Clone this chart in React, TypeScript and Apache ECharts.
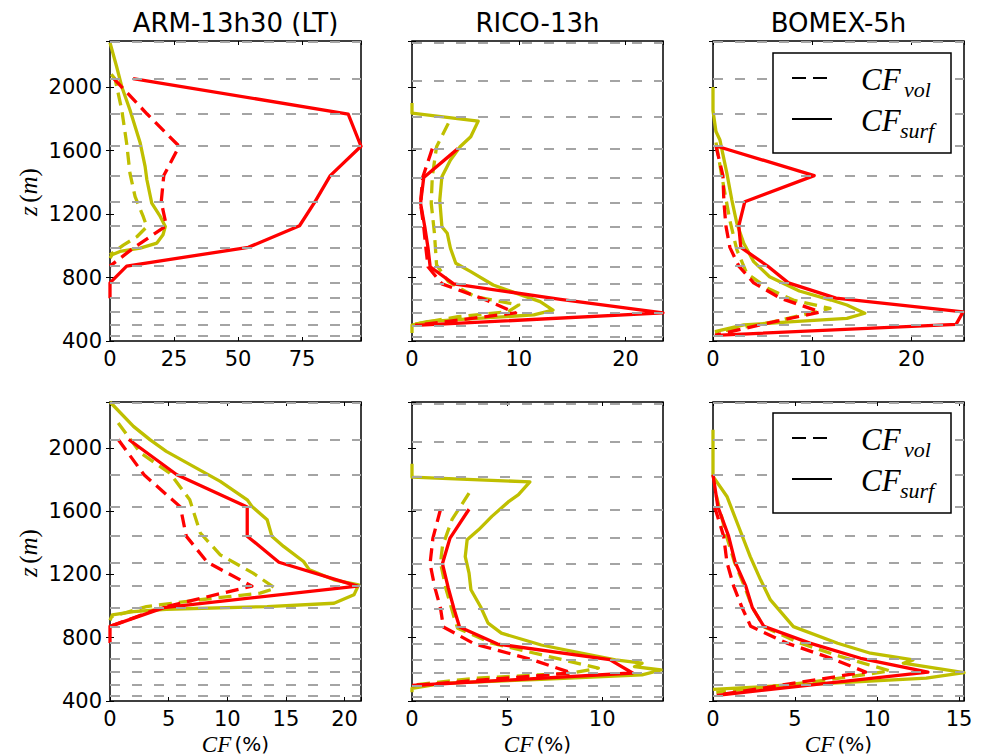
import React, { useEffect, useRef } from "react";
import * as echarts from "echarts";

// Model levels (m) drawn as grey dashed reference lines
const LEVELS_ARM_BOMEX = [436, 505, 583, 670, 766, 872, 990, 1126, 1277, 1442, 1627, 1830, 2053, 2287];
const LEVELS_RICO = [425, 498, 577, 662, 760, 868, 986, 1118, 1268, 1430, 1612, 1815, 2038, 2280];

const TITLES = ["ARM-13h30 (LT)", "RICO-13h", "BOMEX-5h"];
const Y_TICKS_LABELS = [400, 800, 1200, 1600, 2000];
const Y_MIN = 400;
const Y_MAX = 2290;
const Y_INTERVAL = 400;

// x-axis extents per panel [row][col]
const X_MAX = [[98, 23.5, 25.3], [21.4, 13.2, 15.3]];
const X_INTERVAL = [[25, 10, 10], [5, 5, 5]];

// ---- Top row ([CF %, z m]) ----
const ARM_TOP_RED_SURF = [[9, 2053], [93, 1830], [98, 1627], [86, 1442], [80, 1277], [74, 1126], [54, 990], [6.5, 872], [0, 766], [0, 670]];
const ARM_TOP_RED_VOL = [[1.5, 2053], [14.5, 1830], [27, 1627], [21, 1442], [20, 1277], [22, 1126], [9.5, 990], [0, 872]];
const ARM_TOP_YEL_SURF = [[0, 2280], [2.6, 2128], [4.6, 2002], [7.8, 1855], [11.8, 1647], [13.7, 1500], [14.4, 1416], [16.3, 1269], [19.6, 1185], [21.6, 1122], [20.7, 1069], [18.3, 1017], [11.8, 985], [3.9, 964], [0.8, 943], [0, 922]];
const ARM_TOP_YEL_VOL = [[0.5, 2080], [2, 2050], [4.6, 1855], [6.5, 1645], [7.8, 1456], [9.8, 1309], [13, 1183], [14.4, 1120], [10.5, 1057], [5.2, 1004], [0, 943]];

const RICO_TOP_RED_SURF = [[4.3, 1612], [1.1, 1430], [0.8, 1268], [1.2, 1118], [1.5, 986], [1.7, 868], [3.9, 760], [13.9, 662], [23.5, 577], [0.3, 498]];
const RICO_TOP_RED_VOL = [[1.9, 1612], [1.0, 1430], [0.8, 1268], [1.1, 1118], [1.3, 986], [1.5, 868], [2.8, 760], [6.8, 662], [9.7, 577], [0.3, 498]];
const RICO_TOP_YEL_SURF = [[0, 1900], [0, 1835], [6.2, 1785], [5.5, 1687], [4.5, 1624], [3.6, 1540], [2.8, 1435], [2.6, 1288], [2.8, 1120], [3.3, 1079], [3.6, 984], [4.1, 890], [5.5, 837], [7.6, 753], [9.8, 700], [12, 648], [13.2, 595], [11.4, 564], [6.1, 543], [1.4, 522], [0, 500], [0, 450]];
const RICO_TOP_YEL_VOL = [[3.4, 1771], [2.3, 1624], [1.9, 1435], [1.8, 1268], [2.1, 1079], [2.3, 879], [3.4, 774], [5.9, 679], [10, 627], [9, 585], [4.3, 553], [0.3, 507]];

const BOMEX_TOP_RED_SURF = [[0.4, 1627], [10.2, 1442], [3.2, 1277], [2.6, 1126], [2.8, 990], [5.5, 872], [7.6, 766], [12.4, 670], [25.2, 583], [24.5, 505], [0.2, 436]];
const BOMEX_TOP_RED_VOL = [[0.3, 1627], [1.0, 1442], [1.1, 1277], [1.3, 1126], [1.7, 990], [2.6, 872], [4.1, 766], [6.8, 670], [10.8, 583], [5.0, 505], [0.2, 436]];
const BOMEX_TOP_YEL_SURF = [[0, 2000], [0, 1850], [0.3, 1720], [0.7, 1666], [1.4, 1456], [1.9, 1288], [2.4, 1142], [3.1, 1015], [4.1, 900], [5.7, 805], [8.7, 715], [11.9, 658], [13.5, 627], [15.3, 575], [13.5, 543], [8.1, 522], [3.1, 501], [0.2, 459]];
const BOMEX_TOP_YEL_VOL = [[0.3, 1650], [1.0, 1400], [1.7, 1160], [2.4, 975], [3.4, 826], [5.5, 732], [8.1, 658], [11.8, 605], [6, 520], [0.2, 455]];

// ---- Bottom row ----
const ARM_BOT_RED_SURF = [[1.6, 2053], [5.7, 1830], [11.7, 1627], [11.7, 1442], [14.4, 1277], [21.1, 1126], [4.6, 990], [0, 872], [0, 766]];
const ARM_BOT_RED_VOL = [[0.7, 2053], [2.9, 1830], [6.0, 1627], [6.5, 1442], [8.3, 1277], [12.1, 1126], [4.4, 990], [0, 872]];
const ARM_BOT_YEL_SURF = [[0, 2290], [2.0, 2136], [3.4, 2052], [4.8, 1978], [7.1, 1883], [9.4, 1788], [11.7, 1672], [12.1, 1630], [13.4, 1546], [13.8, 1442], [14.8, 1377], [16.5, 1282], [17.0, 1229], [19.1, 1166], [21.2, 1134], [20.8, 1071], [19.1, 1018], [13.4, 997], [4.8, 980], [2.0, 965], [0.2, 944], [0, 910]];
const ARM_BOT_YEL_VOL = [[0.7, 2157], [2.6, 1968], [5.1, 1841], [6.8, 1672], [7.7, 1462], [9.4, 1324], [12.2, 1208], [14.1, 1113], [12.8, 1082], [7.7, 1040], [3.1, 997], [0.2, 934]];

const RICO_BOT_RED_SURF = [[3.0, 1612], [2.0, 1430], [1.6, 1268], [1.9, 1118], [2.2, 986], [2.5, 868], [4.5, 760], [10.4, 662], [11.6, 577], [0, 498]];
const RICO_BOT_RED_VOL = [[1.5, 1612], [1.1, 1430], [0.95, 1268], [1.2, 1118], [1.5, 986], [1.65, 868], [3.3, 760], [6.3, 662], [8.4, 577], [0, 498]];
const RICO_BOT_YEL_SURF = [[0, 1900], [0, 1815], [6.2, 1785], [5.6, 1704], [5.1, 1662], [4.2, 1567], [3.5, 1482], [2.9, 1419], [2.8, 1313], [3.0, 1208], [3.1, 1103], [3.6, 997], [4.0, 892], [4.7, 829], [6.8, 754], [8.9, 702], [10.7, 660], [12.1, 639], [11.7, 617], [13.1, 596], [12.1, 565], [6.8, 537], [1.6, 512], [0, 480], [0, 455]];
const RICO_BOT_YEL_VOL = [[3.0, 1714], [2.1, 1546], [1.6, 1377], [1.5, 1272], [1.8, 1103], [2.2, 934], [2.4, 860], [4.2, 765], [7.2, 681], [9.8, 608], [8.4, 576], [3.3, 544], [0.2, 502]];

const BOMEX_BOT_RED_SURF = [[0, 1830], [0.3, 1627], [0.95, 1442], [1.35, 1277], [2.0, 1126], [2.4, 990], [3.1, 872], [5.9, 766], [9.0, 670], [13.1, 583], [0.24, 436]];
const BOMEX_BOT_RED_VOL = [[0.1, 1627], [0.65, 1442], [0.85, 1277], [1.26, 1126], [1.77, 990], [2.3, 872], [4.5, 766], [7.2, 670], [9.3, 583], [0.2, 436]];
const BOMEX_BOT_YEL_SURF = [[0, 2115], [0, 1820], [0.85, 1693], [1.56, 1503], [2.27, 1313], [2.9, 1166], [3.5, 1039], [4.9, 870], [7.6, 765], [9.6, 702], [12.2, 660], [11.6, 639], [15.3, 579], [13.0, 544], [7.0, 512], [0, 474]];
const BOMEX_BOT_YEL_VOL = [[0.2, 1700], [0.8, 1450], [1.3, 1280], [1.9, 1130], [2.4, 990], [3.1, 870], [5.2, 770], [7.8, 680], [10.8, 590], [6, 520], [0.2, 455]];

const PANEL_DATA = [
  [
    { levels: LEVELS_ARM_BOMEX, ys: ARM_TOP_YEL_SURF, yv: ARM_TOP_YEL_VOL, rs: ARM_TOP_RED_SURF, rv: ARM_TOP_RED_VOL },
    { levels: LEVELS_RICO, ys: RICO_TOP_YEL_SURF, yv: RICO_TOP_YEL_VOL, rs: RICO_TOP_RED_SURF, rv: RICO_TOP_RED_VOL },
    { levels: LEVELS_ARM_BOMEX, ys: BOMEX_TOP_YEL_SURF, yv: BOMEX_TOP_YEL_VOL, rs: BOMEX_TOP_RED_SURF, rv: BOMEX_TOP_RED_VOL },
  ],
  [
    { levels: LEVELS_ARM_BOMEX, ys: ARM_BOT_YEL_SURF, yv: ARM_BOT_YEL_VOL, rs: ARM_BOT_RED_SURF, rv: ARM_BOT_RED_VOL },
    { levels: LEVELS_RICO, ys: RICO_BOT_YEL_SURF, yv: RICO_BOT_YEL_VOL, rs: RICO_BOT_RED_SURF, rv: RICO_BOT_RED_VOL },
    { levels: LEVELS_ARM_BOMEX, ys: BOMEX_BOT_YEL_SURF, yv: BOMEX_BOT_YEL_VOL, rs: BOMEX_BOT_RED_SURF, rv: BOMEX_BOT_RED_VOL },
  ],
];

// ---- layout / style ----
const COL_LEFT = [110, 412, 713];
const ROW_TOP = [41, 402];
const PANEL_W = 251;
const PANEL_H = [300, 299];
const RED = "#ff0000";
const YEL = "#bfbf00";
const DASH = [13, 7];
const SANS = "DejaVu Sans";
const SERIF = "Liberation Serif";

function multipleFormatter(interval: number) {
  return (v: number) => {
    const k = v / interval;
    return Math.abs(k - Math.round(k)) < 1e-6 ? String(Math.round(v * 100) / 100) : "";
  };
}

function buildOption() {
  const grid: any[] = [];
  const xAxis: any[] = [];
  const yAxis: any[] = [];
  const series: any[] = [];
  const graphic: any[] = [];

  const tickStyle = { show: true, inside: true, length: 4, lineStyle: { color: "#000", width: 1 } };
  const labelBase = { color: "#000", fontSize: 21, fontFamily: SANS };

  for (let r = 0; r < 2; r++) {
    for (let c = 0; c < 3; c++) {
      const gi = grid.length;
      const d = PANEL_DATA[r][c];
      grid.push({
        left: COL_LEFT[c],
        top: ROW_TOP[r],
        width: PANEL_W,
        height: PANEL_H[r],
        show: true,
        borderColor: "#000",
        borderWidth: 1.5,
        backgroundColor: "transparent",
      });
      const xi = xAxis.length;
      const xBase = {
        type: "value",
        gridIndex: gi,
        min: 0,
        max: X_MAX[r][c],
        interval: X_INTERVAL[r][c],
        axisLine: { show: false },
        axisTick: tickStyle,
        splitLine: { show: false },
      };
      xAxis.push({
        ...xBase,
        position: "bottom",
        axisLabel: { ...labelBase, margin: 7, formatter: multipleFormatter(X_INTERVAL[r][c]) },
      });
      xAxis.push({ ...xBase, position: "top", axisLabel: { show: false } });
      const yi = yAxis.length;
      const yBase = {
        type: "value",
        gridIndex: gi,
        min: Y_MIN,
        max: Y_MAX,
        interval: Y_INTERVAL,
        axisLine: { show: false },
        axisTick: tickStyle,
        splitLine: { show: false },
      };
      yAxis.push({
        ...yBase,
        position: "left",
        axisLabel:
          c === 0
            ? {
                ...labelBase,
                margin: 8,
                formatter: (v: number) => (Y_TICKS_LABELS.indexOf(v) >= 0 ? String(v) : ""),
              }
            : { show: false },
      });
      yAxis.push({ ...yBase, position: "right", axisLabel: { show: false } });

      // grey dashed model levels
      series.push({
        type: "line",
        xAxisIndex: xi,
        yAxisIndex: yi,
        data: [],
        z: 1,
        silent: true,
        markLine: {
          silent: true,
          symbol: "none",
          label: { show: false },
          lineStyle: { color: "#a4a4a4", width: 1.9, type: [10, 12] },
          data: d.levels.map((z: number) => ({ yAxis: z })),
        },
      });
      const mk = (data: number[][], color: string, dashed: boolean, z: number) => ({
        type: "line",
        xAxisIndex: xi,
        yAxisIndex: yi,
        data,
        z,
        symbol: "none",
        silent: true,
        lineStyle: { color, width: 3.3, type: dashed ? DASH : "solid", cap: "butt", join: "round" },
      });
      series.push(mk(d.ys, YEL, false, 3));
      series.push(mk(d.yv, YEL, true, 3));
      series.push(mk(d.rs, RED, false, 4));
      series.push(mk(d.rv, RED, true, 4));
    }
  }

  // titles
  for (let c = 0; c < 3; c++) {
    graphic.push({
      type: "text",
      x: COL_LEFT[c] + PANEL_W / 2,
      y: 23,
      style: {
        text: TITLES[c],
        fill: "#000",
        font: `26px "${SANS}"`,
        align: "center",
        verticalAlign: "middle",
      },
    });
  }
  // y-axis labels
  for (let r = 0; r < 2; r++) {
    graphic.push({
      type: "text",
      x: 28,
      y: ROW_TOP[r] + 151,
      rotation: Math.PI / 2,
      style: {
        text: "{i|z} {n|(}{i|m}{n|)}",
        align: "center",
        verticalAlign: "middle",
        fill: "#000",
        rich: {
          i: { fontFamily: SERIF, fontStyle: "italic", fontSize: 25, fill: "#000" },
          n: { fontFamily: SERIF, fontSize: 25, fill: "#000" },
        },
      },
    });
  }
  // x-axis labels
  for (let c = 0; c < 3; c++) {
    graphic.push({
      type: "text",
      x: COL_LEFT[c] + PANEL_W / 2,
      y: 744,
      style: {
        text: "{i|CF} {s|(%)}",
        align: "center",
        verticalAlign: "middle",
        fill: "#000",
        rich: {
          i: { fontFamily: SERIF, fontStyle: "italic", fontSize: 23, fill: "#000", lineHeight: 22 },
          s: { fontFamily: SANS, fontSize: 20, fill: "#000", lineHeight: 22 },
        },
      },
    });
  }
  // legends (right column)
  const legendTops = [53, 413];
  for (let r = 0; r < 2; r++) {
    const top = legendTops[r];
    const rows = [top + 25, top + 66];
    const subs = ["vol", "surf"];
    graphic.push({
      type: "rect",
      z: 100,
      shape: { x: 773, y: top, width: 178, height: 100 },
      style: { fill: "#fff", stroke: "#000", lineWidth: 1.5 },
    });
    for (let k = 0; k < 2; k++) {
      graphic.push({
        type: "line",
        z: 101,
        shape: { x1: 792, y1: rows[k], x2: 832, y2: rows[k] },
        style: { stroke: "#000", lineWidth: 2, lineDash: k === 0 ? [14, 7] : null },
      });
      graphic.push({
        type: "text",
        z: 101,
        x: 861,
        y: rows[k] + 1,
        style: {
          text: "CF",
          fill: "#000",
          font: `italic 31px "${SERIF}"`,
          align: "left",
          verticalAlign: "middle",
        },
      });
      graphic.push({
        type: "text",
        z: 101,
        x: k === 0 ? 904 : 900,
        y: rows[k] + 11,
        style: {
          text: subs[k],
          fill: "#000",
          font: `italic 22px "${SERIF}"`,
          align: "left",
          verticalAlign: "middle",
        },
      });
    }
  }

  return {
    animation: false,
    backgroundColor: "#fff",
    grid,
    xAxis,
    yAxis,
    series,
    graphic,
  };
}

export default function App() {
  const ref = useRef<HTMLDivElement>(null);
  useEffect(() => {
    if (!ref.current) return;
    const chart = echarts.init(ref.current, null, { renderer: "svg" });
    chart.setOption(buildOption() as any);
    return () => chart.dispose();
  }, []);
  return (
    <div
      ref={ref}
      style={{ position: "fixed", left: 0, top: 0, width: 986, height: 756, background: "#fff" }}
    />
  );
}
